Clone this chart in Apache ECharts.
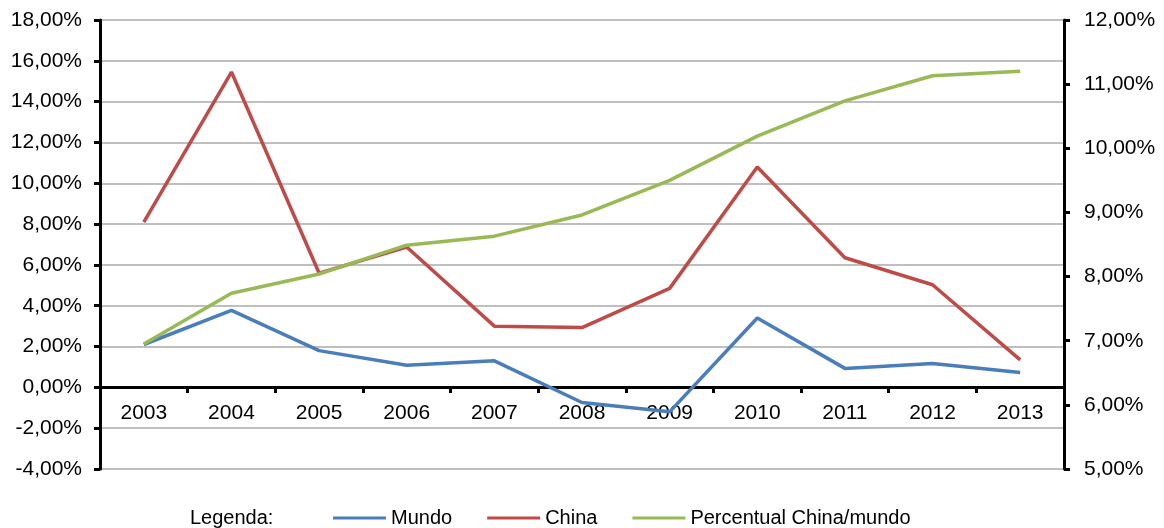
<!DOCTYPE html>
<html>
<head>
<meta charset="utf-8">
<script src="https://cdn.jsdelivr.net/npm/echarts@6/dist/echarts.min.js"></script>
<style>
	html, body { margin: 0; padding: 0; background: #fff; }
	#main { width: 1164px; height: 528px; }
</style>
</head>
<body>
<div id="main"></div>
<script>
var anos = ['2003', '2004', '2005', '2006', '2007', '2008', '2009', '2010', '2011', '2012', '2013'];
// crescimento (% a.a.), eixo esquerdo
var mundo = [2.1, 3.77, 1.8, 1.08, 1.3, -0.74, -1.2, 3.4, 0.93, 1.17, 0.73];
var china = [8.1, 15.45, 5.6, 6.88, 3.0, 2.93, 4.85, 10.8, 6.35, 5.03, 1.35];
// participacao China/mundo (%), eixo direito
var percentual = [6.95, 7.74, 8.04, 8.49, 8.63, 8.96, 9.5, 10.19, 10.74, 11.13, 11.2];

var fonte = 'Liberation Sans, Arial, sans-serif';

function fmt(v){
	return v.toFixed(2).replace('.', ',') + '%';
}

var chart = echarts.init(document.getElementById('main'));
var option = {
	animation : false,
	backgroundColor : '#fff',
	textStyle : { fontFamily : fonte },
	grid : { left : 100, right : 100, top : 20, bottom : 59 },
	legend : {
		left : 328,
		top : 503,
		icon : 'rect',
		itemWidth : 53,
		itemHeight : 3,
		itemGap : 35,
		textStyle : { fontFamily : fonte, fontSize : 20, color : '#000' },
		data : ['Mundo', 'China', 'Percentual China/mundo']
	},
	graphic : [{
		type : 'text',
		left : 190,
		top : 508,
		style : { text : 'Legenda:', font : '20px ' + fonte, fill : '#000' }
	}],
	xAxis : {
		type : 'category',
		data : anos,
		position : 'bottom',
		// eixo na linha do zero (-4 a 0 = 4 * 20,41px)
		offset : -82,
		axisLine : { onZero : false, lineStyle : { color : '#000', width : 3 } },
		axisTick : { show : true, length : 6, lineStyle : { color : '#000', width : 3 } },
		axisLabel : { color : '#000', fontSize : 21, fontFamily : fonte, margin : 16 }
	},
	yAxis : [{
		type : 'value',
		min : -4,
		max : 18,
		interval : 2,
		axisLine : { show : true, lineStyle : { color : '#000', width : 3 } },
		axisTick : { show : true, length : 6, lineStyle : { color : '#000', width : 3 } },
		axisLabel : { color : '#000', fontSize : 21, fontFamily : fonte, margin : 18, formatter : fmt },
		splitLine : { lineStyle : { color : '#bfbfbf', width : 2 } }
	}, {
		type : 'value',
		min : 5,
		max : 12,
		interval : 1,
		position : 'right',
		axisLine : { show : true, lineStyle : { color : '#000', width : 3 } },
		axisTick : { show : true, length : 6, lineStyle : { color : '#000', width : 3 } },
		axisLabel : { color : '#000', fontSize : 21, fontFamily : fonte, margin : 20, formatter : fmt },
		splitLine : { show : false }
	}],
	series : [{
		name : 'Mundo',
		type : 'line',
		data : mundo,
		yAxisIndex : 0,
		symbol : 'none',
		color : '#4a7ebb',
		lineStyle : { width : 3.5, color : '#4a7ebb' }
	}, {
		name : 'China',
		type : 'line',
		data : china,
		yAxisIndex : 0,
		symbol : 'none',
		color : '#be4b48',
		lineStyle : { width : 3.5, color : '#be4b48' }
	}, {
		name : 'Percentual China/mundo',
		type : 'line',
		data : percentual,
		yAxisIndex : 1,
		symbol : 'none',
		color : '#98b954',
		lineStyle : { width : 3.5, color : '#98b954' }
	}]
};
chart.setOption(option);
</script>
</body>
</html>
